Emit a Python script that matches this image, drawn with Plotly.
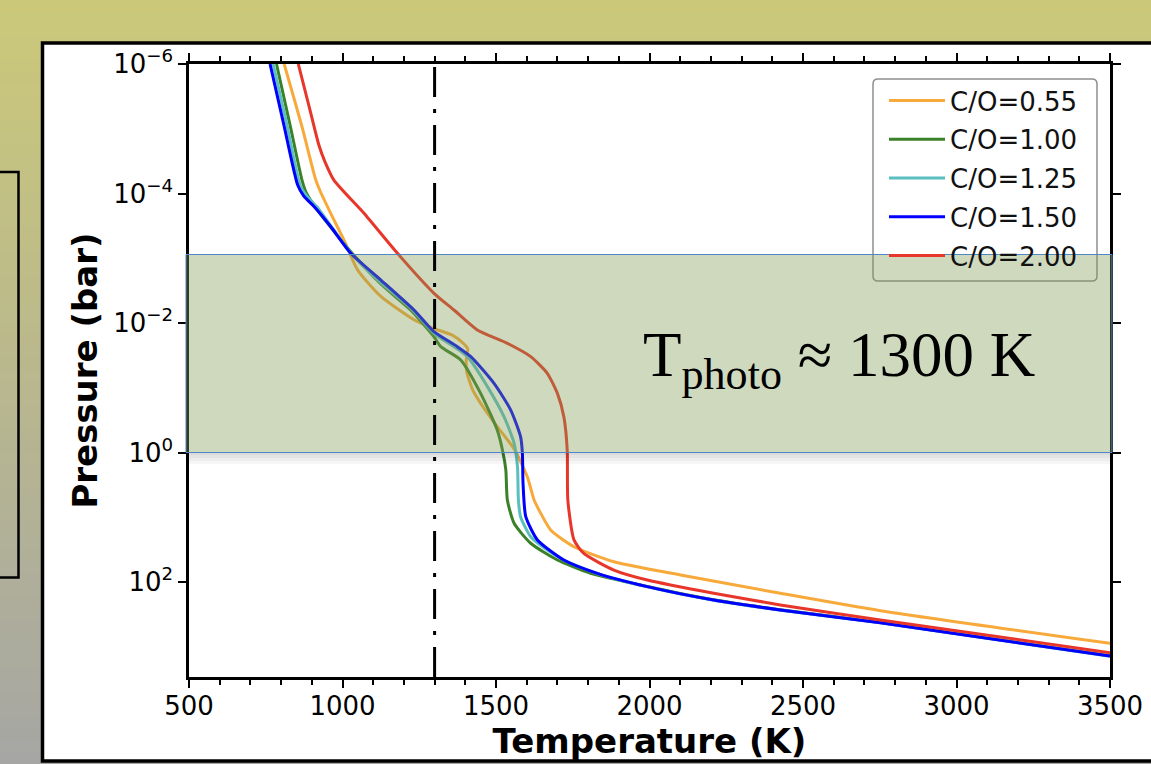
import plotly.graph_objects as go

# ---- temperature-pressure profiles (T in K, P in bar) ----
labels = ["C/O=0.55", "C/O=1.00", "C/O=1.25", "C/O=1.50", "C/O=2.00"]
colors = ["#f7a93a", "#3a8128", "#5bbfc0", "#0000ff", "#e8362a"]

T_055 = [810, 868, 913, 926, 962, 1005, 1049, 1125, 1233, 1298, 1359, 1395, 1408, 1403,
         1405, 1424, 1450, 1504, 1561, 1602, 1624, 1640, 1678, 1754, 1884, 2101, 2426, 2752, 3500]
P_055 = [1e-6, 9.3e-6, 6.2e-5, 8.9e-5, 2.04e-4, 5.25e-4, 1.51e-3, 3.89e-3, 8.9e-3, 1.22e-2,
         1.55e-2, 2.09e-2, 2.51e-2, 3.72e-2, 5.75e-2, 0.108, 0.174, 0.398, 0.912, 2.37, 5.42,
         7.73, 15.7, 28.5, 48.6, 78, 149, 277, 885]

T_100 = [785, 829, 868, 881, 907, 958, 1027, 1125, 1222, 1298, 1320, 1385, 1450, 1504, 1521,
         1532, 1537, 1559, 1613, 1700, 1808, 1993, 2209, 2426, 2752, 3500]
P_100 = [1e-6, 8.7e-6, 6.2e-5, 9.5e-5, 1.51e-4, 3.16e-4, 7.9e-4, 2.5e-3, 6.3e-3, 1.63e-2,
         2.32e-2, 3.72e-2, 0.122, 0.45, 0.914, 1.86, 5.42, 12.4, 25.2, 45.7, 73.5, 117, 188,
         269, 424, 1380]

T_125 = [774, 819, 863, 884, 917, 965, 1027, 1125, 1222, 1298, 1407, 1472, 1526, 1559, 1570,
         1573, 1580, 1613, 1667, 1720, 1830, 1993, 2209, 2426, 2752, 3500]
P_125 = [1e-6, 8.7e-6, 7.7e-5, 1.1e-4, 1.62e-4, 3.3e-4, 8.3e-4, 2.41e-3, 5.86e-3, 1.44e-2,
         3.31e-2, 9.6e-2, 0.28, 0.72, 1.66, 5.42, 9.8, 20.0, 32.1, 45.7, 74, 119, 191, 272,
         427, 1400]

T_150 = [764, 809, 854, 874, 908, 962, 1027, 1125, 1233, 1298, 1374, 1418, 1493, 1548, 1580,
         1586, 1588, 1597, 1635, 1721, 1830, 1993, 2209, 2426, 2752, 3500]
P_150 = [1e-6, 8.7e-6, 7.4e-5, 1.1e-4, 1.6e-4, 3.26e-4, 8.4e-4, 2.17e-3, 6.3e-3, 1.36e-2,
         2.32e-2, 3.31e-2, 8.5e-2, 0.221, 0.57, 1.03, 2.96, 9.8, 22.4, 45.7, 73.5, 118, 190,
         270, 426, 1390]

T_200 = [856, 894, 923, 943, 972, 1070, 1179, 1298, 1363, 1439, 1537, 1613, 1667, 1700, 1721,
         1732, 1734, 1754, 1786, 1884, 1993, 2209, 2426, 2752, 3500]
P_200 = [1e-6, 5.1e-6, 1.78e-5, 3.24e-5, 6.2e-5, 2.02e-4, 8.4e-4, 3.48e-3, 6.3e-3, 1.28e-2,
         2.06e-2, 3.31e-2, 5.98e-2, 0.122, 0.28, 0.914, 5.42, 22.4, 36.1, 65.3, 93.1, 149,
         226, 386, 1236]

T_photo = 1300

x_ticks = [500, 1000, 1500, 2000, 2500, 3000, 3500]
y_ticks = [1e-6, 1e-4, 1e-2, 1, 1e2]
y_ticktext = ["10<sup>\u22126</sup>", "10<sup>\u22124</sup>", "10<sup>\u22122</sup>",
              "10<sup>0</sup>", "10<sup>2</sup>"]

profiles = [(T_055, P_055), (T_100, P_100), (T_125, P_125), (T_150, P_150), (T_200, P_200)]

# ---- page geometry ----
W, H = 1151, 764
L, R, TOP, B = 189, 41, 64, 87
PW, PH = W - L - R, H - TOP - B


def px(xp):
    return (xp - L) / PW


def py(yp):
    return (H - B - yp) / PH


fig = go.Figure()
for (T, P), name, c in zip(profiles, labels, colors):
    fig.add_trace(go.Scatter(
        x=T, y=P, mode="lines", name=name,
        line=dict(color=c, width=3, shape="spline", smoothing=0.6),
        legendgroup=name, hoverinfo="skip",
    ))

shapes = []

# slide background: vertical olive-to-grey gradient
n_bands = 64
top_rgb = (203, 201, 121)
bot_rgb = (166, 166, 164)
for i in range(n_bands):
    f = (i + 0.5) / n_bands
    col = tuple(round(a + (b - a) * f) for a, b in zip(top_rgb, bot_rgb))
    y0 = H * i / n_bands
    y1 = H * (i + 1) / n_bands + 1
    shapes.append(dict(type="rect", xref="paper", yref="paper", layer="below",
                       x0=px(-5), x1=px(W + 5), y0=py(y1), y1=py(y0),
                       fillcolor="rgb(%d,%d,%d)" % col, line=dict(width=0)))

# white panel holding the chart
shapes.append(dict(type="rect", xref="paper", yref="paper", layer="below",
                   x0=px(42.5), x1=px(W + 20), y0=py(761), y1=py(43),
                   fillcolor="white", line=dict(color="black", width=3.5)))
# outline box at the left edge of the slide
shapes.append(dict(type="rect", xref="paper", yref="paper", layer="below",
                   x0=px(-10), x1=px(18.5), y0=py(577.5), y1=py(172),
                   fillcolor="rgba(0,0,0,0)", line=dict(color="black", width=2.5)))

# legend frame (rounded)
lx0, lx1, ly0, ly1, r = 873, 1097, 79, 281, 5
path = ("M {a},{b} L {c},{b} Q {d},{b} {d},{e} L {d},{f} Q {d},{g} {c},{g} "
        "L {a},{g} Q {h},{g} {h},{f} L {h},{e} Q {h},{b} {a},{b} Z").format(
    a=px(lx0 + r), b=py(ly0), c=px(lx1 - r), d=px(lx1), e=py(ly0 + r),
    f=py(ly1 - r), g=py(ly1), h=px(lx0))
shapes.append(dict(type="path", xref="paper", yref="paper", layer="above", path=path,
                   fillcolor="white", line=dict(color="#8f8f8f", width=1.5)))

# soft shadow under the highlight band
for k in (3, 6, 9, 12):
    shapes.append(dict(type="rect", xref="paper", yref="paper", layer="above",
                       x0=px(186), x1=px(1112), y0=py(452 + k), y1=py(452),
                       fillcolor="rgba(0,0,0,0.035)", line=dict(width=0)))

# photosphere highlight band
shapes.append(dict(type="rect", xref="paper", yref="paper", layer="above",
                   x0=px(186), x1=px(1112), y0=py(452.5), y1=py(254.5),
                   fillcolor="rgba(130,156,83,0.38)", line=dict(color="#4f86c6", width=1)))

# photospheric temperature marker
shapes.append(dict(type="line", xref="x", yref="paper", layer="above",
                   x0=T_photo, x1=T_photo, y0=0, y1=1,
                   line=dict(color="black", width=3, dash="30px,12px,4px,12px")))

fig.update_layout(
    width=W, height=H,
    margin=dict(l=L, r=R, t=TOP, b=B, pad=0, autoexpand=False),
    paper_bgcolor="rgb(185,184,142)",
    plot_bgcolor="white",
    font=dict(family="DejaVu Sans", color="black"),
    shapes=shapes,
    showlegend=True,
    legend=dict(
        x=px(884), y=py(77), xanchor="left", yanchor="top",
        bgcolor="rgba(0,0,0,0)", borderwidth=0,
        font=dict(family="DejaVu Sans", size=26, color="#111111"),
        traceorder="grouped", tracegroupgap=2, itemwidth=56,
    ),
    annotations=[dict(
        text="T<sub>photo</sub> \u2248 1300 K",
        xref="paper", yref="paper", x=px(641), y=py(359),
        xanchor="left", yanchor="middle", showarrow=False,
        font=dict(family="Liberation Serif", size=63, color="black"),
    )],
)

fig.update_xaxes(
    range=[500, 3500], tickvals=x_ticks, ticks="outside", ticklen=8, tickwidth=2,
    tickcolor="black", showline=True, linecolor="black", linewidth=2.5, mirror="ticks",
    showgrid=False, zeroline=False, tickfont=dict(size=26, family="DejaVu Sans"),
    ticklabelstandoff=-4, automargin=False,
    minor=dict(dtick=100, ticks="outside", ticklen=5, tickwidth=1.8, tickcolor="black",
               showgrid=False),
    title=dict(text="<b>Temperature (K)</b>", standoff=1,
               font=dict(size=34, family="DejaVu Sans")),
)
fig.update_yaxes(
    type="log", range=[3.467, -6], tickvals=y_ticks, ticktext=y_ticktext,
    ticks="outside", ticklen=8, tickwidth=2, tickcolor="black",
    showline=True, linecolor="black", linewidth=2.5, mirror="ticks", automargin=False,
    showgrid=False, zeroline=False, tickfont=dict(size=26, family="DejaVu Sans"),
    title=dict(text="<b>Pressure (bar)</b>", standoff=6,
               font=dict(size=34, family="DejaVu Sans")),
)

fig.write_html("out.html")
